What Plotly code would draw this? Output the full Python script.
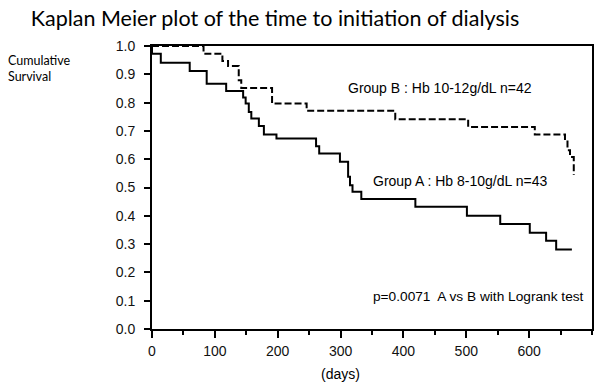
import plotly.graph_objects as go

# ---- data ----
# Group A (solid): event days and survival after each step
days_a = [0, 0, 14, 60, 87, 118, 145, 149, 154, 158, 170, 178, 198, 261, 266, 299,
          312, 315, 319, 333, 419, 501, 554, 601, 627, 643, 668]
surv_a = [1.0, 0.973, 0.941, 0.912, 0.867, 0.841, 0.818, 0.797, 0.767, 0.744, 0.717,
          0.687, 0.673, 0.646, 0.620, 0.591, 0.538, 0.508, 0.485, 0.459, 0.432, 0.400,
          0.371, 0.340, 0.312, 0.281, 0.281]

# Group B (dashed)
days_b = [0, 82, 112, 121, 138, 142, 191, 246, 387, 503, 609, 657, 661, 665, 671]
surv_b = [1.0, 0.973, 0.947, 0.929, 0.879, 0.852, 0.797, 0.771, 0.741, 0.714, 0.687,
          0.667, 0.632, 0.608, 0.544]

x_major = [0, 100, 200, 300, 400, 500, 600]
y_ticks = [0.0, 0.1, 0.2, 0.3, 0.4, 0.5, 0.6, 0.7, 0.8, 0.9, 1.0]
y_labels = [f"{v:.1f}" for v in y_ticks]

label_b = "Group B : Hb 10-12g/dL n=42"
label_a = "Group A : Hb 8-10g/dL n=43"
label_p = "p=0.0071  A vs B with Logrank test"
title = "Kaplan Meier plot of the time to initiation of dialysis"

ARIAL = "Liberation Sans"
W, H = 600, 391

fig = go.Figure()
fig.add_trace(go.Scatter(x=days_a, y=surv_a, mode="lines", line_shape="hv",
                         line=dict(color="black", width=2), showlegend=False))
fig.add_trace(go.Scatter(x=days_b, y=surv_b, mode="lines", line_shape="hv",
                         line=dict(color="black", width=2, dash="7px,3px"),
                         showlegend=False))

fig.update_layout(
    width=W, height=H,
    margin=dict(l=152, r=6, t=46, b=62),
    paper_bgcolor="white", plot_bgcolor="white",
    title=dict(text=title, x=275 / W, xanchor="center",
               y=1 - 18 / H, yanchor="middle",
               font=dict(family="Lato", size=21.5, color="black")),
    xaxis=dict(range=[0, 700], tickvals=x_major, ticktext=[str(v) for v in x_major],
               showline=True, mirror=True, linecolor="black", linewidth=2,
               ticks="outside", ticklen=7, tickwidth=1.5, tickcolor="black",
               minor=dict(dtick=50, tick0=0, ticks="outside", ticklen=4,
                          tickwidth=1.5, tickcolor="black"),
               showgrid=False, zeroline=False, ticklabelstandoff=1,
               tickfont=dict(family=ARIAL, size=14, color="#111")),
    yaxis=dict(range=[0, 1], tickvals=y_ticks, ticktext=y_labels,
               showline=True, mirror=True, linecolor="black", linewidth=2,
               ticks="outside", ticklen=6, tickwidth=1.5, tickcolor="black",
               showgrid=False, zeroline=False, ticklabelstandoff=6,
               tickfont=dict(family=ARIAL, size=14, color="#111")),
)

fig.add_annotation(x=309, y=0.85, xref="x", yref="y", text=label_b, showarrow=False,
                   xanchor="left", yanchor="middle",
                   font=dict(family=ARIAL, size=14, color="black"))
fig.add_annotation(x=349, y=0.522, xref="x", yref="y", text=label_a, showarrow=False,
                   xanchor="left", yanchor="middle",
                   font=dict(family=ARIAL, size=14, color="black"))
fig.add_annotation(x=349, y=0.116, xref="x", yref="y", text=label_p, showarrow=False,
                   xanchor="left", yanchor="middle",
                   font=dict(family=ARIAL, size=13.7, color="black"))
fig.add_annotation(x=300, y=-0.16, xref="x", yref="paper", text="(days)",
                   showarrow=False, xanchor="center", yanchor="middle",
                   font=dict(family=ARIAL, size=14, color="black"))
fig.add_annotation(x=(5 - 152) / 442.3, y=(329 - 60) / 283.3, xref="paper", yref="paper",
                   text="Cumulative", showarrow=False, xanchor="left", yanchor="middle",
                   font=dict(family="Lato", size=12.5, color="black"))
fig.add_annotation(x=(5 - 152) / 442.3, y=(329 - 76) / 283.3, xref="paper", yref="paper",
                   text="Survival", showarrow=False, xanchor="left", yanchor="middle",
                   font=dict(family="Lato", size=12.5, color="black"))

fig.write_html("out.html",
               config={"displayModeBar": False},
               post_script="document.body.style.margin='0';"
                           "document.body.style.overflow='hidden';")
